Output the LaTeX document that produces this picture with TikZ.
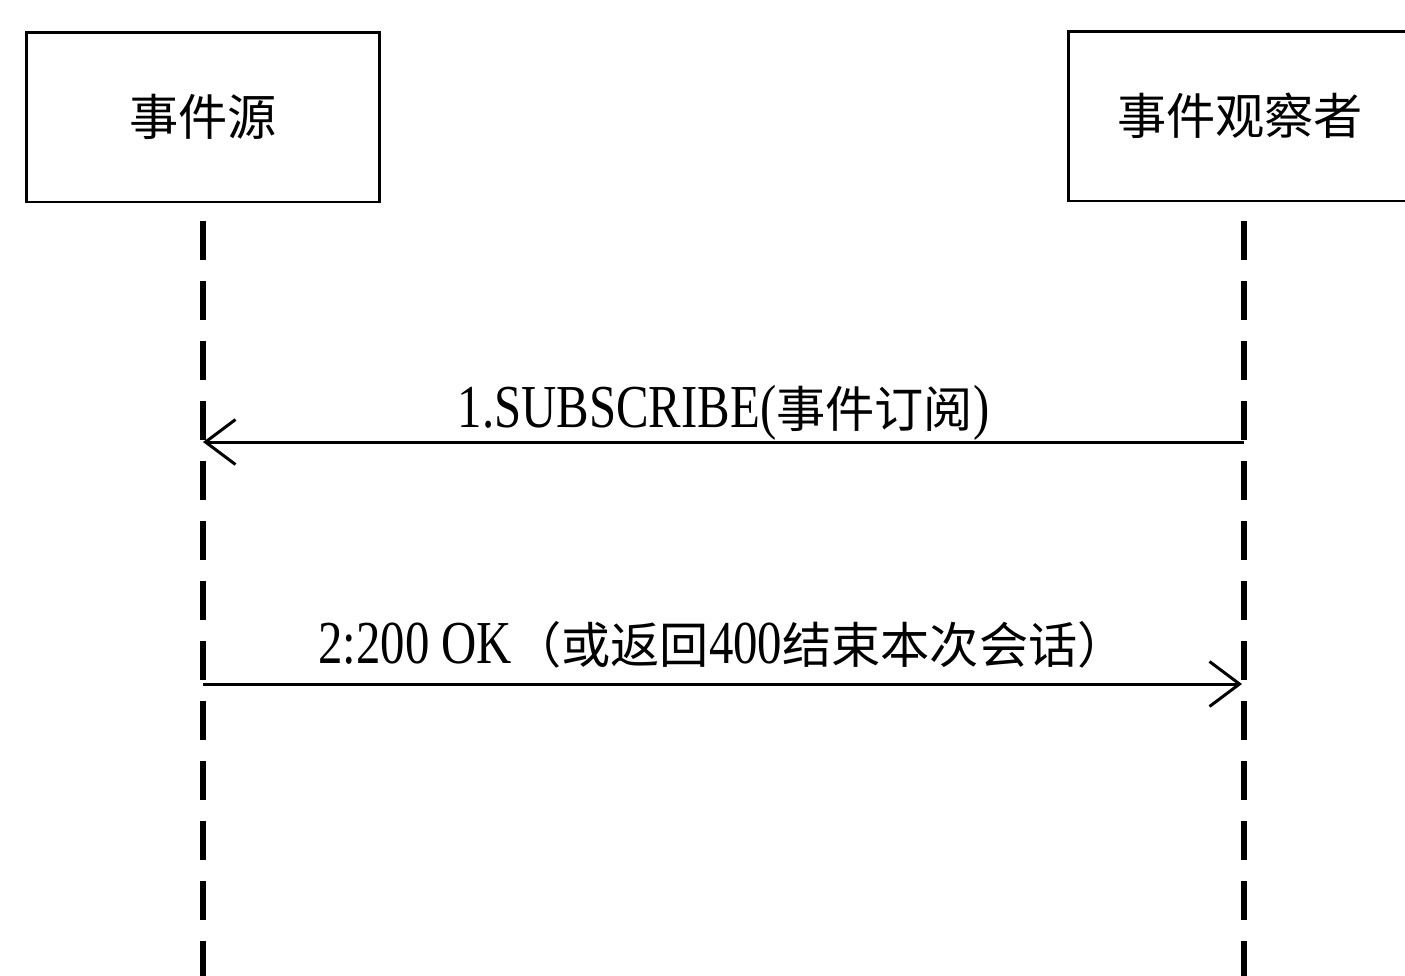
\documentclass[tikz,border=0pt]{standalone}
\usepackage{fontspec}
\setmainfont{Liberation Serif}[Scale=1.24,FakeStretch=0.8]
\newfontfamily\cjkfont{Noto Sans CJK SC}
\newcommand{\zh}[1]{{\cjkfont #1}}
\usetikzlibrary{arrows.meta,positioning}

\begin{document}
\begin{tikzpicture}
    [x=0.02cm,y=-0.02cm,
     font=\fontsize{28}{34}\selectfont,
     actor/.style={rectangle,draw=black,line width=1.7pt,minimum height=3.4cm,inner sep=0pt},
     lifeline/.style={line width=3.1pt,dash pattern=on 0.78cm off 0.42cm},
     msg/.style={line width=1.7pt,-{Straight Barb[length=0.6cm,width=0.9cm,line width=1.7pt]}},
     msglabel/.style={midway,anchor=base,inner sep=0pt}]
    \useasboundingbox (0,0) rectangle (1405,975);

    % participants
    \node (src) at (203,117) [actor,minimum width=7.06cm] {\zh{事件源}};
    \node (obs) at (1240,116) [actor,minimum width=6.88cm] {\zh{事件观察者}};

    % lifelines
    \coordinate (srcTop) at (203,221);
    \coordinate (srcEnd) at (203,980);
    \coordinate (obsTop) at (1244,221);
    \coordinate (obsEnd) at (1244,980);
    \draw[lifeline] (srcTop) -- (srcEnd);
    \draw[lifeline] (obsTop) -- (obsEnd);

    % messages
    \coordinate (src1) at (203,442);
    \coordinate (obs1) at (1244,442);
    \coordinate (src2) at (203,684);
    \coordinate (obs2) at (1242,684);

    \draw[msg] (obs1) -- (src1)
        node[msglabel,yshift=0.3cm] (m1) {1.SUBSCRIBE(\zh{事件订阅})};
    \draw[msg] (src2) -- (obs2)
        node[msglabel,yshift=0.42cm] (m2) {2:200 OK\zh{（或返回}400\zh{结束本次会话）}};
\end{tikzpicture}
\end{document}
